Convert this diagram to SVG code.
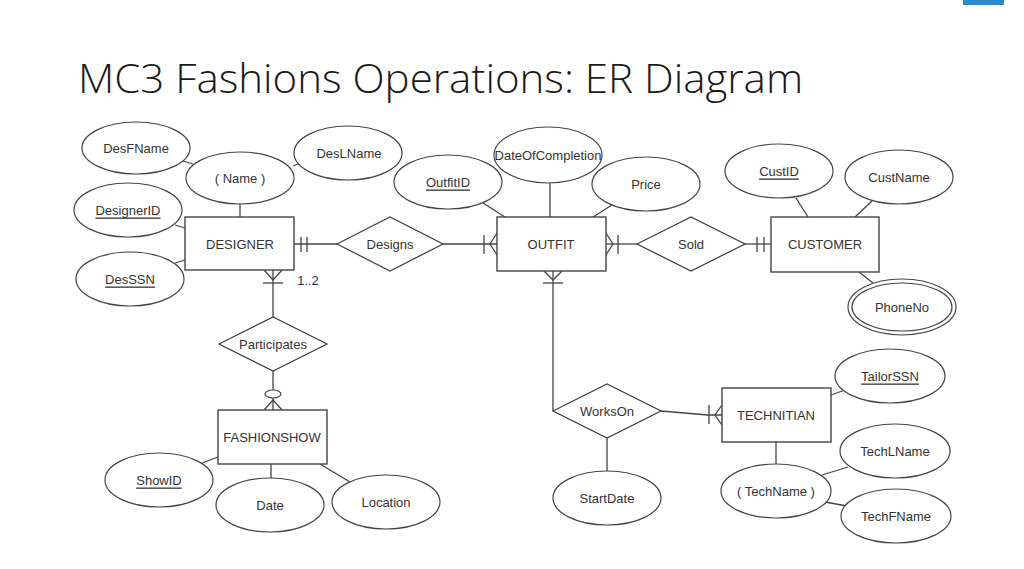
<svg xmlns="http://www.w3.org/2000/svg" width="1024" height="569" viewBox="0 0 1024 569">
<style>
.e{fill:#fff;stroke:#444;stroke-width:1.2}
.r{fill:#fff;stroke:#444;stroke-width:1.4}
.d{fill:#fff;stroke:#444;stroke-width:1.3}
.l{fill:none;stroke:#444;stroke-width:1.3}
text{font-family:"Liberation Sans",Arial,sans-serif;font-size:13px;fill:#333;text-anchor:middle;dominant-baseline:central}
.u{text-decoration:underline}
.t{font-family:"Open Sans","Liberation Sans",sans-serif;font-weight:300;font-size:41px;fill:#1a1a1a;text-anchor:start;dominant-baseline:alphabetic}
</style>
<rect x="963" y="0" width="41" height="5" fill="#2f8ad0"/>
<text class="t" x="78" y="93" textLength="725" lengthAdjust="spacingAndGlyphs">MC3 Fashions Operations: ER Diagram</text>
<g id="connectors">
<line class="l" x1="183" y1="161" x2="193" y2="164"/>
<line class="l" x1="293" y1="166" x2="298" y2="164"/>
<line class="l" x1="240" y1="204" x2="240" y2="217"/>
<line class="l" x1="175" y1="225" x2="185" y2="228"/>
<line class="l" x1="175" y1="263" x2="185" y2="260"/>
<line class="l" x1="294" y1="244" x2="337" y2="244"/>
<line class="l" x1="301" y1="237" x2="301" y2="252"/>
<line class="l" x1="307" y1="237" x2="307" y2="252"/>
<line class="l" x1="443" y1="244" x2="497" y2="244"/>
<line class="l" x1="484" y1="235" x2="484" y2="254"/>
<polyline class="l" points="497,233 490,244 497,255"/>
<line class="l" x1="483" y1="203" x2="505" y2="217"/>
<line class="l" x1="550" y1="183" x2="550" y2="217"/>
<line class="l" x1="612" y1="205" x2="593" y2="217"/>
<line class="l" x1="606" y1="244" x2="637" y2="244"/>
<polyline class="l" points="606,233 613,244 606,255"/>
<line class="l" x1="618" y1="235" x2="618" y2="254"/>
<line class="l" x1="745" y1="244" x2="771" y2="244"/>
<line class="l" x1="757" y1="237" x2="757" y2="252"/>
<line class="l" x1="764" y1="237" x2="764" y2="252"/>
<line class="l" x1="796" y1="198" x2="808" y2="217"/>
<line class="l" x1="872" y1="201" x2="855" y2="217"/>
<line class="l" x1="859" y1="272" x2="873" y2="283"/>
<line class="l" x1="273" y1="270" x2="273" y2="317"/>
<polyline class="l" points="264,270 273,280 282,270"/>
<line class="l" x1="263" y1="283" x2="283" y2="283"/>
<line class="l" x1="273" y1="371" x2="273" y2="390"/>
<ellipse class="e" cx="273" cy="394" rx="8" ry="4"/>
<line class="l" x1="273" y1="398" x2="273" y2="410"/>
<polyline class="l" points="264,410 273,400 282,410"/>
<line class="l" x1="202" y1="463" x2="218" y2="457"/>
<line class="l" x1="271" y1="464" x2="271" y2="478"/>
<line class="l" x1="320" y1="464" x2="350" y2="482"/>
<line class="l" x1="553" y1="271" x2="553" y2="411"/>
<polyline class="l" points="544,271 553,280 562,271"/>
<line class="l" x1="543" y1="283" x2="563" y2="283"/>
<polyline class="l" points="661,411 708,415 722,415"/>
<line class="l" x1="709" y1="405" x2="709" y2="424"/>
<polyline class="l" points="722,405 715,415 722,425"/>
<line class="l" x1="607" y1="438" x2="607" y2="471"/>
<line class="l" x1="831" y1="395" x2="845" y2="390"/>
<line class="l" x1="776" y1="442" x2="776" y2="464"/>
<line class="l" x1="822" y1="475" x2="848" y2="467"/>
<line class="l" x1="825" y1="502" x2="847" y2="506"/>
</g>
<text x="308" y="280" style="text-anchor:middle">1..2</text>
<g id="designer"><rect class="r" x="185" y="217" width="109" height="53"/><text x="240" y="244">DESIGNER</text></g>
<g id="name"><ellipse class="e" cx="240" cy="178" rx="54" ry="26"/><text x="240" y="178">( Name )</text></g>
<g id="desfname"><ellipse class="e" cx="136" cy="148" rx="54" ry="26"/><text x="136" y="148">DesFName</text></g>
<g id="deslname"><ellipse class="e" cx="348" cy="153" rx="54" ry="27"/><text x="349" y="153">DesLName</text></g>
<g id="designerid"><ellipse class="e" cx="128" cy="210" rx="54" ry="27"/><text class="u" x="128" y="210">DesignerID</text></g>
<g id="desssn"><ellipse class="e" cx="130" cy="279" rx="54" ry="27"/><text class="u" x="130" y="279">DesSSN</text></g>
<g id="designs"><polygon class="d" points="337,244 390,217 443,244 390,271"/><text x="390" y="244">Designs</text></g>
<g id="outfit"><rect class="r" x="497" y="217" width="109" height="54"/><text x="551" y="244">OUTFIT</text></g>
<g id="outfitid"><ellipse class="e" cx="448" cy="182" rx="54" ry="27"/><text class="u" x="448" y="182">OutfitID</text></g>
<g id="dateofcompletion"><ellipse class="e" cx="548" cy="155" rx="54" ry="28"/><text x="548" y="155">DateOfCompletion</text></g>
<g id="price"><ellipse class="e" cx="646" cy="184" rx="54" ry="27"/><text x="646" y="184">Price</text></g>
<g id="sold"><polygon class="d" points="637,244 691,217 745,244 691,271"/><text x="691" y="244">Sold</text></g>
<g id="customer"><rect class="r" x="771" y="217" width="108" height="55"/><text x="825" y="244">CUSTOMER</text></g>
<g id="custid"><ellipse class="e" cx="779" cy="171" rx="54" ry="27"/><text class="u" x="779" y="171">CustID</text></g>
<g id="custname"><ellipse class="e" cx="899" cy="177" rx="54" ry="27"/><text x="899" y="177">CustName</text></g>
<g id="phoneno"><ellipse class="e" cx="902" cy="307" rx="54" ry="28"/><ellipse class="e" cx="902" cy="307" rx="50" ry="24"/><text x="902" y="307">PhoneNo</text></g>
<g id="participates"><polygon class="d" points="219,344 273,317 327,344 273,371"/><text x="273" y="344">Participates</text></g>
<g id="fashionshow"><rect class="r" x="218" y="410" width="109" height="54"/><text x="272" y="437">FASHIONSHOW</text></g>
<g id="showid"><ellipse class="e" cx="159" cy="480" rx="54" ry="27"/><text class="u" x="159" y="480">ShowID</text></g>
<g id="date"><ellipse class="e" cx="270" cy="505" rx="54" ry="27"/><text x="270" y="505">Date</text></g>
<g id="location"><ellipse class="e" cx="386" cy="502" rx="54" ry="27"/><text x="386" y="502">Location</text></g>
<g id="workson"><polygon class="d" points="553,411 607,384 661,411 607,438"/><text x="607" y="411">WorksOn</text></g>
<g id="startdate"><ellipse class="e" cx="607" cy="498" rx="54" ry="27"/><text x="607" y="498">StartDate</text></g>
<g id="technitian"><rect class="r" x="722" y="388" width="109" height="54"/><text x="776" y="415">TECHNITIAN</text></g>
<g id="tailorssn"><ellipse class="e" cx="890" cy="376" rx="55" ry="27"/><text class="u" x="890" y="376">TailorSSN</text></g>
<g id="techname"><ellipse class="e" cx="776" cy="491" rx="55" ry="27"/><text x="776" y="491">( TechName )</text></g>
<g id="techlname"><ellipse class="e" cx="895" cy="451" rx="55" ry="27"/><text x="895" y="451">TechLName</text></g>
<g id="techfname"><ellipse class="e" cx="896" cy="516" rx="55" ry="27"/><text x="896" y="516">TechFName</text></g>
</svg>
